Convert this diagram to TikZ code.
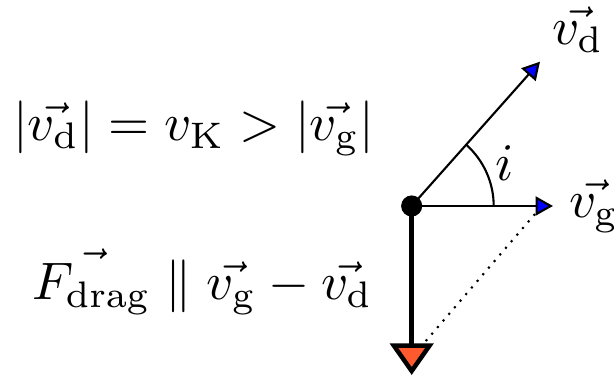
\documentclass[tikz,border=0pt]{standalone}
\usetikzlibrary{arrows.meta}
\definecolor{tipred}{RGB}{255,90,45}
\begin{document}
\begin{tikzpicture}[x=0.1895pt,y=-0.1895pt,
  vecline/.style={line width=0.4pt},
  bluetip/.style={-{Triangle[length=3.3pt,width=3.6pt,fill=blue]}},
  dragline/.style={line width=0.85pt,-{Triangle[length=6pt,width=8.2pt,fill=tipred]}},
  dotline/.style={line width=0.4pt,dash pattern=on 0.4pt off 1.25pt},
  dotnode/.style={circle,fill=black,inner sep=0pt,minimum size=4pt},
  lbl/.style={inner sep=0pt}]
\useasboundingbox (0,0) rectangle (614,379);
\coordinate (O) at (411.7,206);
\coordinate (G) at (553,206);
\coordinate (D) at (540,61.7);
\coordinate (F) at (411.7,375);
\coordinate (d1) at (535,214);
\coordinate (d2) at (425,342);
\draw[dotline] (d1) -- (d2);
\draw[vecline,bluetip] (O) -- (G);
\draw[vecline,bluetip] (O) -- (D);
\draw[dragline] (O) -- (F);
\draw[vecline] (O) ++(82,0) arc[start angle=0,end angle=-48.4,radius=82];
\node[dotnode] (dot) at (O) {};
\node[lbl] (ilab) at (505,163) {$i$};
\node[lbl,anchor=base west] (vdlab) at (551,45) {$\vec{v_\mathrm{d}}$};
\node[lbl,anchor=base west] (vglab) at (568,218) {$\vec{v_\mathrm{g}}$};
\node[lbl,anchor=base west] (eq1) at (12,141) {$|\vec{v_\mathrm{d}}| = v_\mathrm{K} > |\vec{v_\mathrm{g}}|$};
\node[lbl,anchor=base west] (eq2) at (31,300) {$\vec{F_\mathrm{drag}} \parallel \vec{v_\mathrm{g}} - \vec{v_\mathrm{d}}$};
\end{tikzpicture}
\end{document}
